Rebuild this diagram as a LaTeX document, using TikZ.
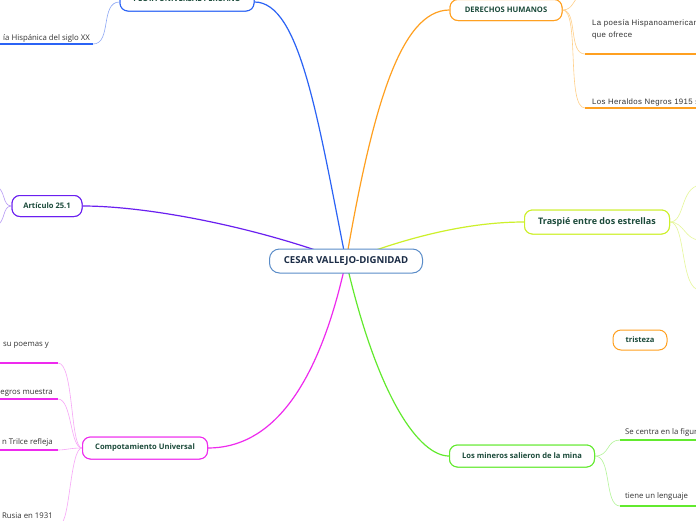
\documentclass[tikz,border=0pt]{standalone}
\usepackage{fontspec}
\setmainfont{Open Sans}
\newfontfamily\arialf[LetterSpace=5]{Liberation Sans}
\definecolor{cblue}{HTML}{2B63F5}
\definecolor{corange}{HTML}{FFA020}
\definecolor{corangel}{HTML}{FFD08A}
\definecolor{cpurple}{HTML}{6A1FF0}
\definecolor{cpurplel}{HTML}{B89AF5}
\definecolor{cyg}{HTML}{CDF02A}
\definecolor{cygl}{HTML}{E6F79A}
\definecolor{cmag}{HTML}{EE2AEE}
\definecolor{cmagl}{HTML}{F7A6F7}
\definecolor{cgreen}{HTML}{62EA2E}
\definecolor{cgreenl}{HTML}{B5F59A}
\definecolor{cbluel}{HTML}{8FA9F5}
\definecolor{ccent}{HTML}{5A8CC8}
\definecolor{ttopic}{HTML}{1B4A3A}
\definecolor{tcent}{HTML}{1A2B45}
\definecolor{tsub}{HTML}{333333}
\tikzset{
  topicbox/.style={draw=#1, line width=1pt, rounded corners=8pt, fill=white, inner xsep=10pt, inner ysep=0pt, minimum height=21pt, text=ttopic, font=\fontsize{7.6}{9}\selectfont\bfseries},
  mainline/.style={draw=#1, line width=1.2pt},
  subline/.style={draw=#1, line width=0.6pt},
  underl/.style={draw=#1, line width=1.5pt},
  subtext/.style={text=tsub, font=\fontsize{7.8}{9}\selectfont, inner sep=0pt},
  arialtext/.style={text=tsub, font=\arialf\fontsize{7.8}{12}\selectfont, inner sep=0pt, align=left},
}
\begin{document}
\begin{tikzpicture}[x=1pt,y=-1pt]
\useasboundingbox (0,0) rectangle (696,520);
\clip (0,0) rectangle (696,520);
\fill[white] (0,0) rectangle (696,520);
\coordinate (c) at (346,261);

% ---- topic node positions (drawn again on top below)
\node[topicbox=cblue, minimum width=134pt, minimum height=24pt] (peota) at (187,-1) {PEOTA UNIVERSAL PERUANO};
\node[topicbox=corange, minimum width=112pt] (der) at (506,10) {DERECHOS HUMANOS};
\node[topicbox=cpurple, minimum width=70pt] (art) at (47,206) {Artículo 25.1};
\node[topicbox=cyg, minimum width=145pt, minimum height=24pt, font=\fontsize{9}{11}\selectfont\bfseries] (tras) at (597,222) {Traspié entre dos estrellas};
\node[topicbox=corange, minimum width=54pt, minimum height=20pt] (tri) at (640,340) {tristeza};
\node[topicbox=cmag, minimum width=125pt, minimum height=22pt] (comp) at (145,448) {Compotamiento Universal};
\node[topicbox=cgreen, minimum width=145pt, minimum height=22pt] (min) at (522,456) {Los mineros salieron de la mina};

% ---- sub coordinates
\coordinate (pL) at (peota.west |- 0,2);
\coordinate (p1) at (93,44);
\coordinate (p1a) at (0,44);

\coordinate (dR) at (der.east);
\coordinate (d0) at (585,-6);
\coordinate (d1) at (585,54);
\coordinate (d1a) at (696,54);
\coordinate (d2) at (585,108);
\coordinate (d2a) at (696,108);

\coordinate (aL) at (art.west);
\coordinate (a1) at (-4,186);
\coordinate (a2) at (-4,226);

\coordinate (tR) at (tras.east);
\coordinate (t1) at (700,185);
\coordinate (t2) at (700,240);
\coordinate (t3) at (700,290);

\coordinate (cL) at (comp.west);
\coordinate (m1) at (58,363);
\coordinate (m1a) at (0,363);
\coordinate (m2) at (58,399);
\coordinate (m2a) at (0,399);
\coordinate (m3) at (58,450);
\coordinate (m3a) at (0,450);
\coordinate (m4) at (60,524);
\coordinate (m4a) at (0,524);

\coordinate (nR) at (min.east);
\coordinate (n1) at (620,440);
\coordinate (n1a) at (696,440);
\coordinate (n2) at (620,506);
\coordinate (n2a) at (696,506);

% ---- main connectors
\draw[mainline=cblue] (c) .. controls (318,120) and (300,2) .. (peota.east |- 0,2);
\draw[mainline=corange] (c) .. controls (372,110) and (400,10) .. (der.west);
\draw[mainline=cpurple] (c) .. controls (260,228) and (150,206) .. (art.east);
\draw[mainline=cyg] (c) .. controls (410,236) and (470,222) .. (tras.west);
\draw[mainline=cmag] (c) .. controls (318,390) and (270,448) .. (comp.east);
\draw[mainline=cgreen] (c) .. controls (378,400) and (420,456) .. (min.west);

% ---- sub connectors
\draw[subline=cbluel] (pL) .. controls (100,2) and (112,44) .. (p1);
\draw[underl=cblue] (p1) -- (p1a);

\draw[subline=corangel] (dR) .. controls (575,10) and (572,-4) .. (d0);
\draw[subline=corangel] (dR) .. controls (578,10) and (568,54) .. (d1);
\draw[underl=corange] (d1) -- (d1a);
\draw[subline=corangel] (dR) .. controls (580,10) and (566,108) .. (d2);
\draw[underl=corange] (d2) -- (d2a);

\draw[subline=cpurplel] (aL) .. controls (2,206) and (6,190) .. (a1);
\draw[subline=cpurplel] (aL) .. controls (2,206) and (6,222) .. (a2);

\draw[subline=cygl] (tR) .. controls (685,222) and (680,188) .. (t1);
\draw[subline=cygl] (tR) .. controls (684,222) and (685,240) .. (t2);
\draw[subline=cygl] (tR) .. controls (686,222) and (680,290) .. (t3);

\draw[subline=cmagl] (cL) .. controls (70,448) and (74,363) .. (m1);
\draw[underl=cmag] (m1) -- (m1a);
\draw[subline=cmagl] (cL) .. controls (70,448) and (72,399) .. (m2);
\draw[underl=cmag] (m2) -- (m2a);
\draw[subline=cmagl] (cL) .. controls (70,448) and (66,450) .. (m3);
\draw[underl=cmag] (m3) -- (m3a);
\draw[subline=cmagl] (cL) .. controls (70,448) and (70,524) .. (m4);
\draw[underl=cmag] (m4) -- (m4a);

\draw[subline=cgreenl] (nR) .. controls (610,456) and (606,440) .. (n1);
\draw[underl=cgreen] (n1) -- (n1a);
\draw[subline=cgreenl] (nR) .. controls (612,456) and (604,506) .. (n2);
\draw[underl=cgreen] (n2) -- (n2a);

% ---- topic nodes on top of connectors
\node[topicbox=cblue, minimum width=134pt, minimum height=24pt] at (peota) {PEOTA UNIVERSAL PERUANO};
\node[topicbox=corange, minimum width=112pt] at (der) {DERECHOS HUMANOS};
\node[topicbox=cpurple, minimum width=70pt] at (art) {Artículo 25.1};
\node[topicbox=cyg, minimum width=145pt, minimum height=24pt, font=\fontsize{9}{11}\selectfont\bfseries] at (tras) {Traspié entre dos estrellas};
\node[topicbox=cmag, minimum width=125pt, minimum height=22pt] at (comp) {Compotamiento Universal};
\node[topicbox=cgreen, minimum width=145pt, minimum height=22pt] at (min) {Los mineros salieron de la mina};

% ---- central node
\node[draw=ccent, line width=1pt, rounded corners=10pt, fill=white, minimum width=153pt, minimum height=24pt, text=tcent, font=\fontsize{9.6}{11}\selectfont\bfseries] (cent) at (c) {CESAR VALLEJO-DIGNIDAD};

% ---- sub texts
\node[subtext, anchor=base east] (s1) at (90,40) {ía Hispánica del siglo XX};
\node[arialtext, anchor=base west] (s2) at (592,37) {La poesía Hispanoamericana\\que ofrece};
\node[arialtext, anchor=base west] (s3) at (592,104) {Los Heraldos Negros 1915 su};
\node[subtext, anchor=base east] (s4) at (49,346) {su poemas y};
\node[subtext, anchor=base east] (s5) at (53,394) {egros muestra};
\node[subtext, anchor=base east] (s6) at (53,444) {n Trilce refleja};
\node[subtext, anchor=base east] (s7) at (53,518) {Rusia en 1931};
\node[subtext, anchor=base west] (s8) at (625,434) {Se centra en la figura};
\node[subtext, anchor=base west] (s9) at (625,498) {tiene un lenguaje};
\end{tikzpicture}
\end{document}
